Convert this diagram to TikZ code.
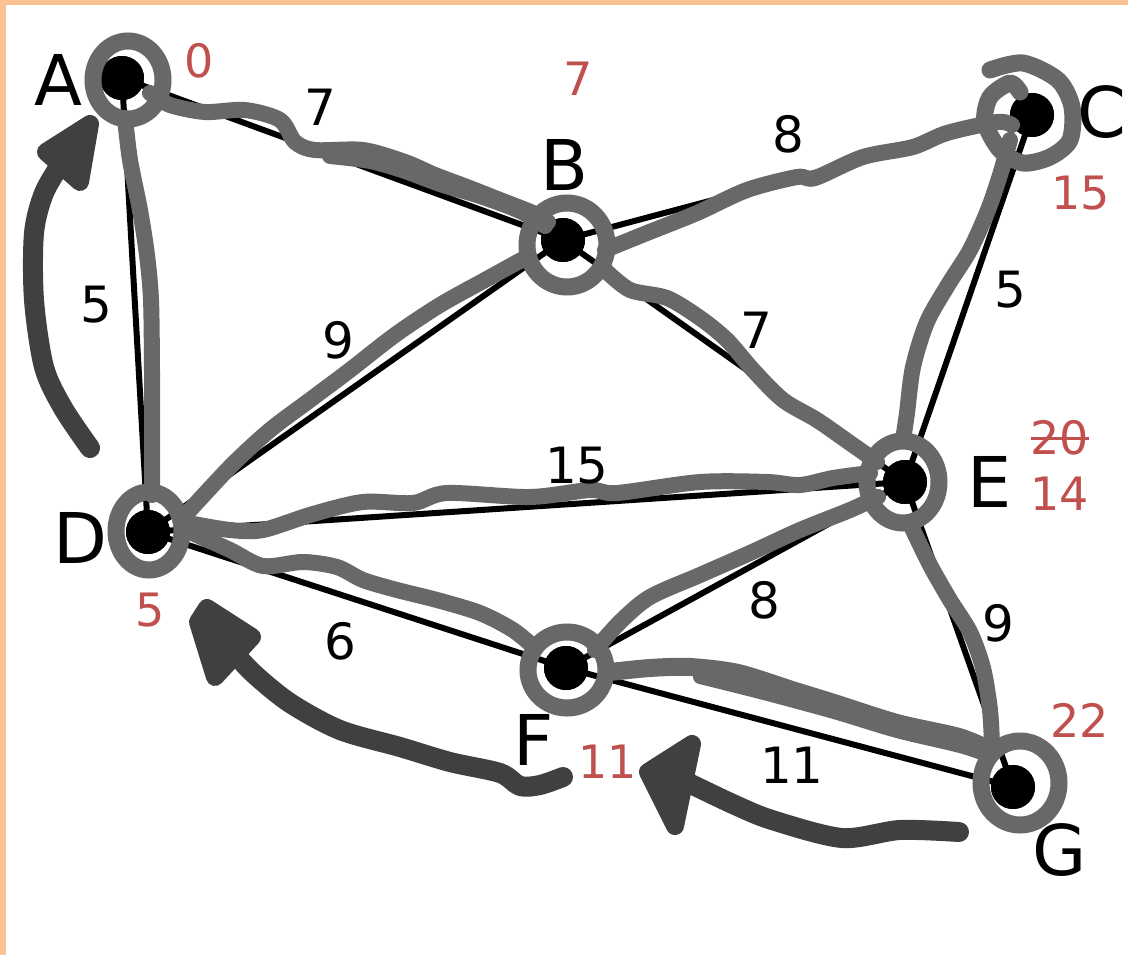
\documentclass[tikz,border=0pt]{standalone}
\usepackage{fontspec}
\setmainfont{DejaVu Sans}
\definecolor{tracegray}{HTML}{686868}
\definecolor{arrgray}{HTML}{404040}
\definecolor{distred}{HTML}{C0504D}
\definecolor{peach}{HTML}{FAC391}
\begin{document}
\begin{tikzpicture}[x=1pt,y=-1pt,
 edge/.style={line width=6pt,black},
 trace/.style={line width=16pt,draw=tracegray,line cap=round,line join=round},
 ring/.style={line width=17pt,draw=tracegray},
 dot/.style={circle,fill=black,minimum size=44pt,inner sep=0pt},
 arr/.style={line width=20pt,draw=arrgray,line cap=round,line join=round},
 head/.style={fill=arrgray,draw=arrgray,line width=18pt,line join=round},
 nlab/.style={font=\fontsize{70}{70}\selectfont,inner sep=0pt},
 wlab/.style={font=\fontsize{50}{50}\selectfont,inner sep=0pt},
 dlab/.style={font=\fontsize{46}{46}\selectfont,text=distred,inner sep=0pt}]
\useasboundingbox (0,0) rectangle (1128,955);
\fill[white] (0,0) rectangle (1128,955);
\fill[peach] (0,0) rectangle (1128,5);
\fill[peach] (0,0) rectangle (6,955);

% vertices
\node[dot] (A) at (122,78) {};
\node[dot] (B) at (563,240) {};
\node[dot] (C) at (1032,115) {};
\node[dot] (D) at (148,532) {};
\node[dot] (E) at (905,482) {};
\node[dot] (F) at (566,668) {};
\node[dot] (G) at (1013,787) {};

% edges
\foreach \u/\v in {A/B,A/D,B/C,B/D,B/E,C/E,D/E,D/F,E/F,E/G,F/G}
  \draw[edge] (\u.center) -- (\v.center);
% dots over edges
\foreach \n in {A,B,C,D,E,F,G}
  \fill[black] (\n.center) circle[radius=22pt];

% gray traces
\draw[trace] plot[smooth] coordinates {(150,93) (170,105) (205,112) (245,110) (280,120) (295,142) (315,150) (363,150) (405,162) (435,175) (467,187) (500,200) (533,213) (548,222)};
\draw[trace] plot[smooth] coordinates {(330,156) (370,161) (405,171) (440,184) (480,196) (520,211) (545,226)};
\draw[trace] plot[smooth] coordinates {(125,118) (130,160) (140,210) (147,255) (151,300) (152,370) (152,435) (152,495)};
\draw[trace] plot[smooth] coordinates {(605,250) (647,233) (697,213) (747,190) (797,177) (815,178) (863,157) (913,147) (947,133) (997,122) (1012,125)};
\draw[trace] plot[smooth] coordinates {(525,258) (485,280) (440,305) (395,335) (350,370) (310,400) (270,430) (232,465) (190,510)};
\draw[trace] plot[smooth] coordinates {(605,270) (630,290) (667,298) (700,318) (727,340) (753,370) (783,400) (817,420) (850,443) (877,462)};
\draw[trace] plot[smooth] coordinates {(1010,140) (1000,175) (988,210) (970,250) (948,285) (927,322) (913,367) (907,413) (903,440)};
\draw[trace] plot[smooth] coordinates {(188,523) (230,530) (263,530) (313,514) (363,502) (413,503) (447,493) (530,497) (590,490) (617,493) (700,482) (767,482) (800,485) (833,478) (870,473)};
\draw[trace] plot[smooth] coordinates {(190,532) (230,550) (263,566) (303,562) (337,567) (363,580) (397,590) (437,600) (480,613) (513,630) (535,648)};
\draw[trace] plot[smooth] coordinates {(595,650) (620,622) (650,597) (700,575) (750,553) (800,530) (850,510) (878,497)};
\draw[trace,line width=18pt] plot[smooth] coordinates {(610,672) (650,668) (690,667) (738,673) (792,690) (834,703) (897,723) (959,737) (990,750)};
\draw[trace,line width=14pt] plot[smooth] coordinates {(700,677) (760,692) (834,712) (897,731) (960,746) (990,756)};
\draw[trace] plot[smooth] coordinates {(912,528) (930,565) (950,600) (970,632) (983,668) (990,710) (992,745)};

% rings
\draw[ring] (128,80) ellipse[x radius=35pt, y radius=39pt];
\draw[ring] (567,245) ellipse[x radius=40pt, y radius=42pt];
\draw[ring] (149,531) ellipse[x radius=33pt, y radius=39pt];
\draw[ring] (903,482) ellipse[x radius=36pt, y radius=41pt];
\draw[ring] (567,670) ellipse[x radius=39pt, y radius=38pt];
\draw[ring] (1020,783) ellipse[x radius=39pt, y radius=42pt];
\draw[trace,line width=17pt] plot[smooth] coordinates {(990,70) (1023,63) (1058,80) (1072,107) (1070,140) (1050,157) (1023,163) (1000,150) (985,122) (990,97) (1010,83) (1020,92)};

% dark arrows
\draw[arr] plot[smooth] coordinates {(90,448) (63,408) (44,367) (34,300) (34,233) (44,193) (62,162)};
\draw[head] (46,152) -- (90,124) -- (80,182) -- cycle;
\draw[arr] plot[smooth] coordinates {(563,777) (540,785) (520,786) (500,773) (450,762) (400,747) (340,730) (290,703) (253,673) (230,648)};
\draw[head] (207,608) -- (252,637) -- (215,677) -- (198,622) -- cycle;
\draw[arr] plot[smooth] coordinates {(959,832) (900,830) (842,838) (772,820) (735,805) (697,787) (672,775)};
\draw[head] (692,744) -- (648,772) -- (675,826) -- cycle;

% vertex labels
\node[nlab] (lA) at (58,80) {A};
\node[nlab] (lB) at (565,165) {B};
\node[nlab] (lC) at (1102,112) {C};
\node[nlab] (lD) at (80,538) {D};
\node[nlab] (lE) at (990,482) {E};
\node[nlab] (lF) at (534,740) {F};
\node[nlab] (lG) at (1060,850) {G};

% weights
\node[wlab] (wAB) at (320,107) {7};
\node[wlab] (wBC) at (788,134) {8};
\node[wlab] (wAD) at (96,305) {5};
\node[wlab] (wBD) at (338,340) {9};
\node[wlab] (wBE) at (756,330) {7};
\node[wlab] (wCE) at (1010,290) {5};
\node[wlab] (wDE) at (577,466) {15};
\node[wlab] (wDF) at (340,641) {6};
\node[wlab] (wEF) at (764,600) {8};
\node[wlab] (wEG) at (998,623) {9};
\node[wlab] (wFG) at (792,765) {11};

% distances
\node[dlab] (dA) at (199,61) {0};
\node[dlab] (dB) at (578,79) {7};
\node[dlab] (dC) at (1081,193) {15};
\node[dlab] (dD) at (150,610) {5};
\node[dlab] (dE1) at (1060,438) {20};
\draw[distred,line width=3pt] (dE1.west) -- (dE1.east);
\node[dlab] (dE2) at (1060,494) {14};
\node[dlab] (dF) at (608,762) {11};
\node[dlab] (dG) at (1080,720) {22};
\end{tikzpicture}
\end{document}
